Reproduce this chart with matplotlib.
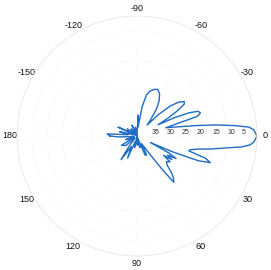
import numpy as np
import matplotlib
matplotlib.use("Agg")
import matplotlib.pyplot as plt

# Measured radiation pattern (angle in degrees, gain in dB)
angles_deg = [-180, -176, -172, -166, -160, -155, -150, -144, -138, -130, -122, -115,
              -108, -100, -94, -87, -83, -80, -77, -74, -70, -66, -62, -58, -54, -50,
              -47, -45, -42, -39, -36, -34, -32, -30, -28, -26, -24, -22, -20, -18,
              -16, -14, -12, -10, -8, -6, -4.5, -3, 0, 3, 4.5, 6, 7.5, 10, 12, 14.5,
              16, 18, 20, 22, 24, 26, 28, 30, 32, 34, 36, 38, 41, 44, 47, 49, 51.5,
              53, 55, 59, 63, 67, 71, 76, 82, 88, 95, 102, 108, 113, 118, 124, 128,
              134, 140, 149, 155, 162, 170, 177, 180]
gain_db = [-31, -30, -37, -34, -39, -33, -38, -36, -40, -37, -40, -36,
           -39, -37, -40, -33, -37, -30, -26, -24.5, -23.5, -23, -24, -26, -29, -33,
           -35, -30, -25, -22, -20.5, -21, -24, -28, -32, -26, -21, -18, -17.5, -19,
           -30, -28, -25, -20, -13.5, -7, -2.5, -1, 0, -1, -2.2, -5, -9.7, -15, -19, -21.7,
           -22, -16, -14, -18, -27, -35, -28, -25, -28, -26, -29, -26, -27, -26, -23, -21.5, -20.3,
           -26, -33, -37, -33, -33, -39, -36, -40, -37, -40, -36, -38, -32, -36, -30.5, -36,
           -39, -35, -34, -39, -36, -39, -34, -31]

angle_ticks = [0, 30, 60, 90, 120, 150, 180, 210, 240, 270, 300, 330]
angle_labels = ["0", "30", "60", "90", "120", "150", "180", "-150", "-120", "-90", "-60", "-30"]
r_ticks = [-35, -30, -25, -20, -15, -10, -5]
r_labels = ["35", "30", "25", "20", "15", "10", "5"]

fig = plt.figure(figsize=(2.71, 2.70), dpi=100)
ax = fig.add_axes([0.0627, 0.0519, 0.8856, 0.8889], projection="polar")
ax.set_theta_zero_location("E")
ax.set_theta_direction(-1)

ax.plot(np.deg2rad(angles_deg), gain_db, color="#1f6cc4", linewidth=1.0)

ax.set_ylim(-40, 0)
ax.set_xticks(np.deg2rad(angle_ticks))
ax.set_xticklabels(angle_labels, fontsize=6.5, family="Liberation Sans", color="#111111")
ax.set_yticks(r_ticks)
ax.set_yticklabels(r_labels, fontsize=5, family="Liberation Sans", color="#333333")
ax.set_rlabel_position(0)
ax.tick_params(axis="x", pad=-5)
ax.grid(True, color="#f0f0f0", linestyle=":", linewidth=0.5)
ax.spines["polar"].set_color("#e6e6e6")
ax.spines["polar"].set_linewidth(0.6)

fig.savefig("out.png", dpi=100)
